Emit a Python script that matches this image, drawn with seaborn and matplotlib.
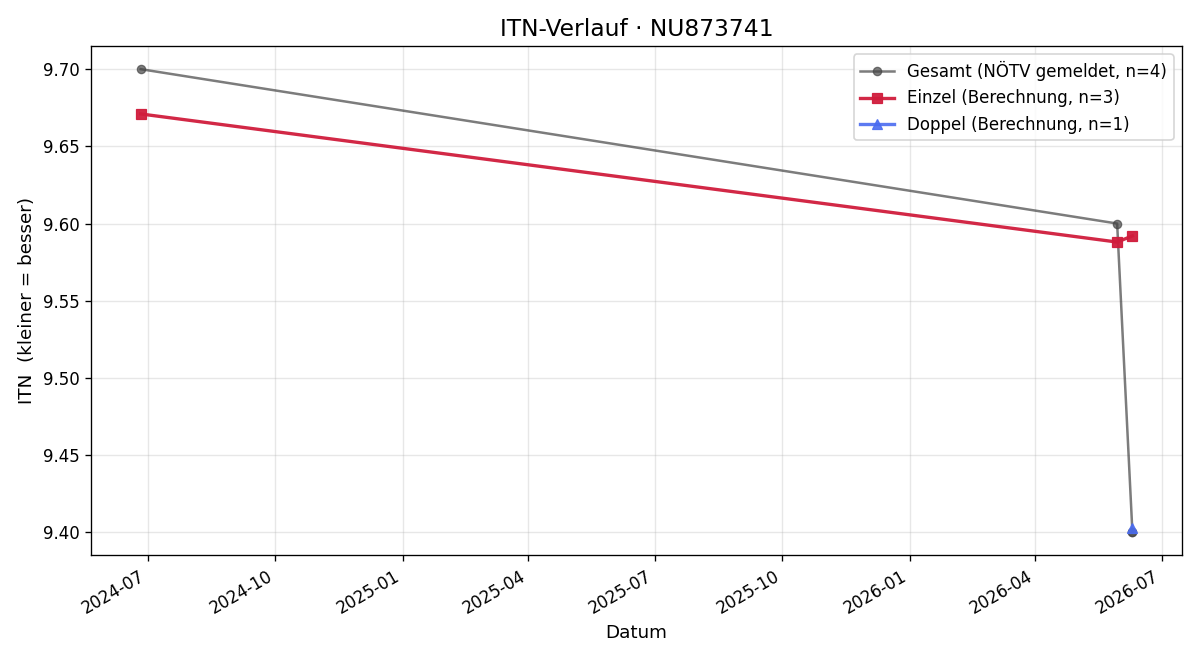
import numpy as np
import pandas as pd
import matplotlib
matplotlib.use("Agg")
import matplotlib.pyplot as plt
import matplotlib.dates as mdates
import seaborn as sns

# Daten
gesamt_datum = ["2024-06-26", "2026-05-30", "2026-06-10", "2026-06-10"]
gesamt_itn = [9.700, 9.600, 9.400, 9.400]

einzel_datum = ["2024-06-26", "2026-05-30", "2026-06-10"]
einzel_itn = [9.671, 9.588, 9.592]

doppel_datum = ["2026-06-10"]
doppel_itn = [9.403]


def serie(datum, itn):
    return pd.DataFrame({"Datum": pd.to_datetime(datum), "ITN": itn})


def main():
    fig, ax = plt.subplots(figsize=(10, 5.5), dpi=120)

    sns.lineplot(data=serie(gesamt_datum, gesamt_itn), x="Datum", y="ITN",
                 estimator=None, sort=False, color="#444444", alpha=0.7,
                 marker="o", markersize=5, linewidth=1.5,
                 markeredgecolor="#444444",
                 label="Gesamt (NÖTV gemeldet, n=4)", ax=ax)
    sns.lineplot(data=serie(einzel_datum, einzel_itn), x="Datum", y="ITN",
                 estimator=None, sort=False, color="#d01c3c", alpha=0.95,
                 marker="s", markersize=6, linewidth=2,
                 markeredgecolor="#d01c3c",
                 label="Einzel (Berechnung, n=3)", ax=ax)
    sns.lineplot(data=serie(doppel_datum, doppel_itn), x="Datum", y="ITN",
                 estimator=None, color="#4a6cf0", alpha=0.9,
                 marker="^", markersize=6.5, linewidth=2,
                 markeredgecolor="#4a6cf0",
                 label="Doppel (Berechnung, n=1)", ax=ax)

    ax.set_title("ITN-Verlauf · NU873741", fontsize=14)
    ax.set_xlabel("Datum", fontsize=11)
    ax.set_ylabel("ITN  (kleiner = besser)", fontsize=11)
    ax.tick_params(labelsize=10)
    ax.grid(True, alpha=0.3)
    ax.set_ylim(9.385, 9.715)
    ax.xaxis.set_major_locator(mdates.MonthLocator(bymonth=[1, 4, 7, 10]))
    ax.xaxis.set_major_formatter(mdates.DateFormatter("%Y-%m"))
    ax.legend(loc="upper right", fontsize=10)
    fig.autofmt_xdate()
    fig.tight_layout()
    fig.savefig("out.png")


if __name__ == "__main__":
    main()
